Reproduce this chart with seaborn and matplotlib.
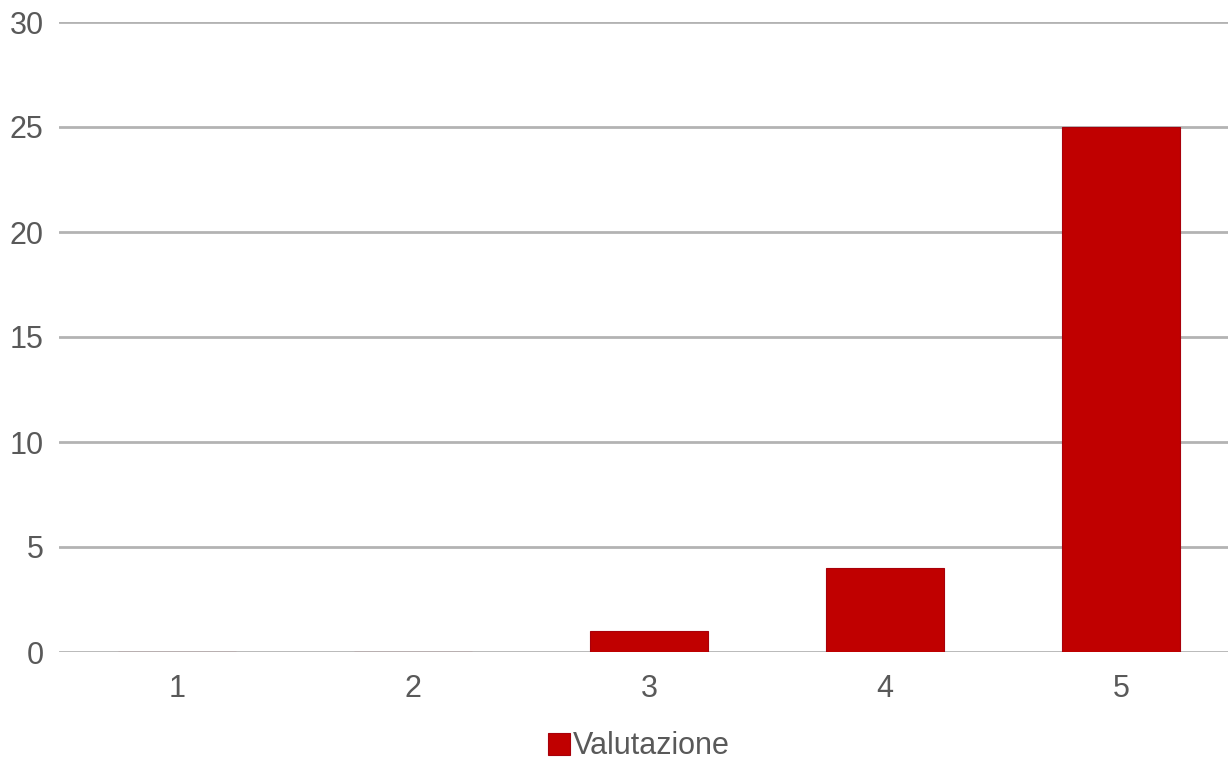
import pandas as pd
import numpy as np
import matplotlib.pyplot as plt
import seaborn as sns

categories = ['1', '2', '3', '4', '5']
values = [0, 0, 1, 4, 25]
series_name = 'Valutazione'
y_ticks = [0, 5, 10, 15, 20, 25, 30]

sns.set_style('white')
plt.rcParams['font.family'] = ['Liberation Sans', 'DejaVu Sans']

df = pd.DataFrame({'voto': categories, 'conteggio': values, 'serie': series_name})

fig = plt.figure(figsize=(12.28, 7.61), dpi=100)
ax = fig.add_axes([59 / 1228, 109 / 761, 1180 / 1228, 630 / 761])

sns.barplot(data=df, x='voto', y='conteggio', hue='serie', palette=['#c00000'],
            saturation=1, width=0.5, edgecolor='#a8000a', linewidth=0.8, ax=ax, zorder=3)

ax.set_ylim(0, 30)
ax.set_yticks(y_ticks)
ax.set_xlim(-0.5, 4.5)
ax.grid(axis='y', color='#b3b3b3', linewidth=2, zorder=0)
ax.set_axisbelow(True)
for s in ax.spines.values():
    s.set_visible(False)
ax.tick_params(axis='both', length=0, labelsize=22, labelcolor='#595959')
ax.tick_params(axis='y', pad=11)
ax.tick_params(axis='x', pad=16)
ax.set_xlabel('')
ax.set_ylabel('')

ax.legend(loc='center', bbox_to_anchor=(580 / 1180, -0.15), frameon=False,
          fontsize=22, labelcolor='#595959', handlelength=0.7, handleheight=0.7,
          handletextpad=0.1, borderaxespad=0)

plt.savefig('out.png', dpi=100)
plt.close('all')
